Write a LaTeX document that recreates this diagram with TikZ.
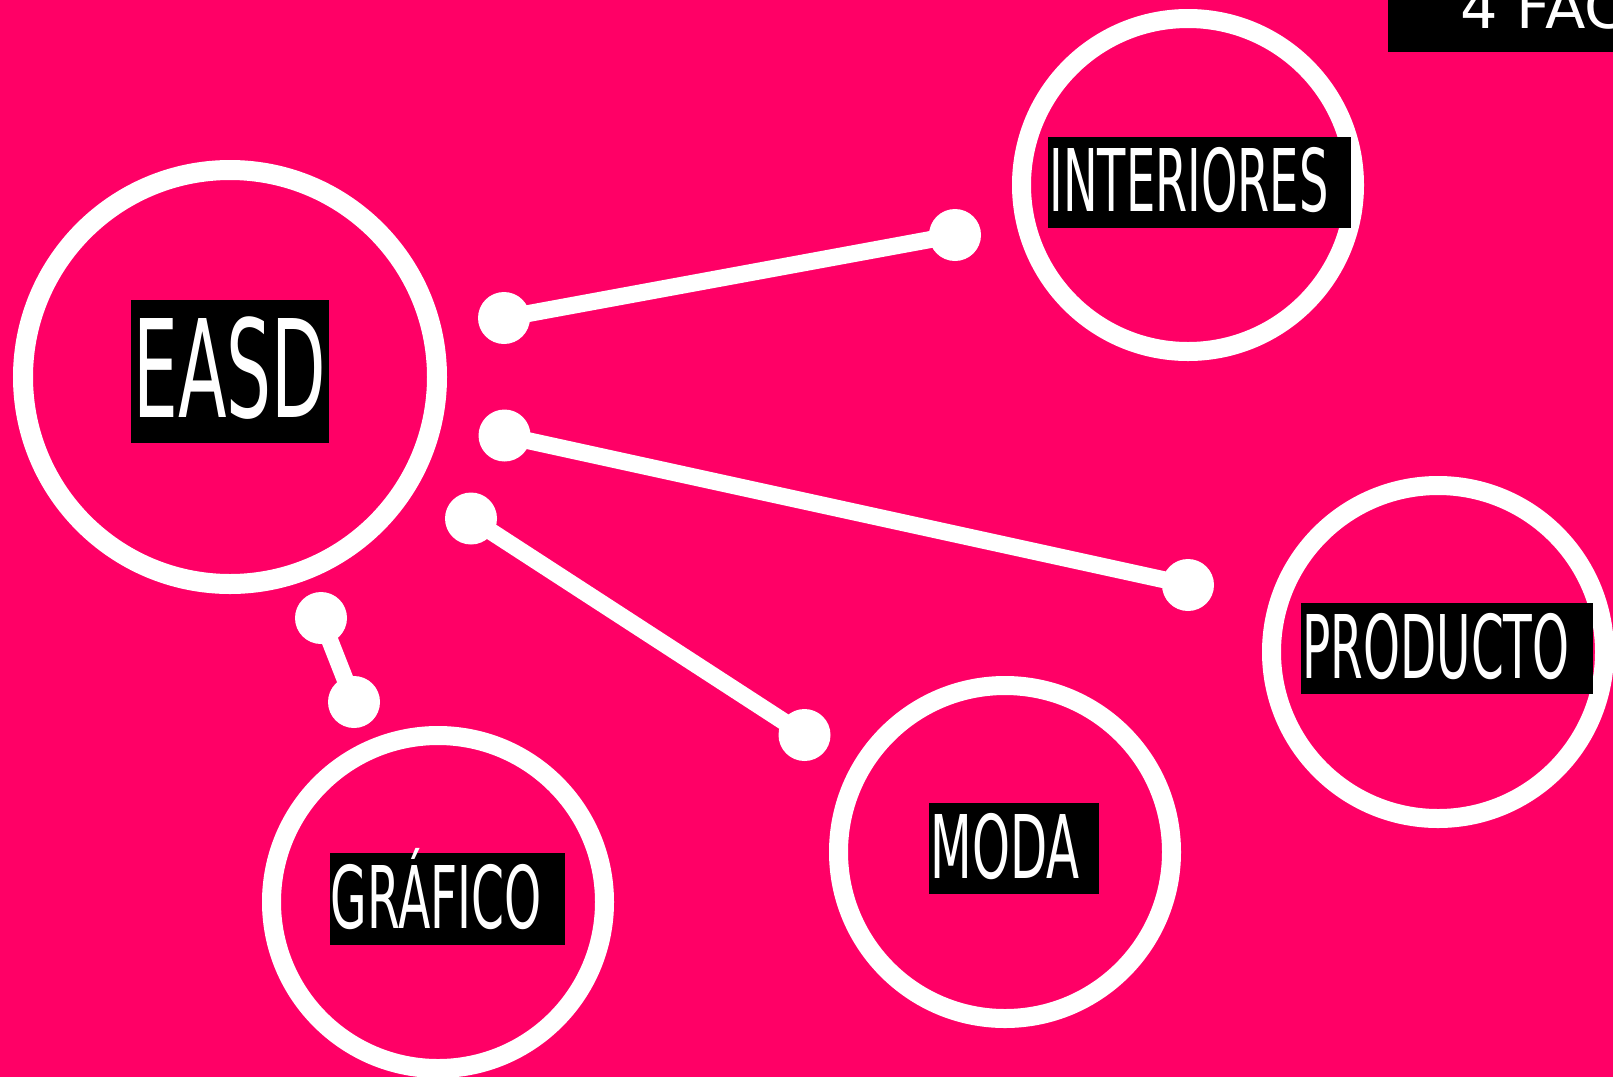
\documentclass[tikz,border=0pt]{standalone}
\usepackage{fontspec}
\newfontfamily\labfont{DejaVu Sans}
\newfontfamily\topfont{DejaVu Sans}
\definecolor{bgpink}{RGB}{255,0,102}
\newcommand\lab[3]{{\labfont\fontsize{86}{90}\selectfont\resizebox{#1}{#2}{\raisebox{0pt}[\fontcharht\font`E][0pt]{#3}}}}
\begin{document}
\begin{tikzpicture}[x=1pt,y=-1pt,
  ring/.style={circle, draw=white, inner sep=0pt},
  bigring/.style={ring, minimum size=414pt, line width=20pt},
  smallring/.style={ring, minimum size=333pt, line width=19pt},
  dot/.style={circle, fill=white, minimum size=52pt, inner sep=0pt},
  conn/.style={draw=white, line width=17pt},
  labbox/.style={fill=black, inner sep=0pt, draw=none},
  labtext/.style={anchor=base, inner sep=0pt, text=white}]
\useasboundingbox (0,0) rectangle (1613,1077);
\clip (0,0) rectangle (1613,1077);
\fill[bgpink] (0,0) rectangle (1613,1077);
% rings
\node[bigring] (easd) at (230,377) {};
\node[smallring] (inter) at (1188,185) {};
\node[smallring] (prod) at (1438,652) {};
\node[smallring] (moda) at (1005,852) {};
\node[smallring] (graf) at (438,902) {};
% connector dots
\node[dot] (a1) at (504,318) {};
\node[dot] (a2) at (955,235) {};
\node[dot] (b1) at (504.5,435.5) {};
\node[dot] (b2) at (1188,585) {};
\node[dot] (c1) at (471,518.5) {};
\node[dot] (c2) at (804.5,735) {};
\node[dot] (d1) at (321,618) {};
\node[dot] (d2) at (354,702) {};
% connectors
\draw[conn] (a1.center) -- (a2.center);
\draw[conn] (b1.center) -- (b2.center);
\draw[conn] (c1.center) -- (c2.center);
\draw[conn] (d1.center) -- (d2.center);
% label boxes
\node[labbox, minimum width=198pt, minimum height=143pt] (bE) at (230,371.5) {};
\node[labbox, minimum width=303pt, minimum height=91pt] (bI) at (1199.5,182.5) {};
\node[labbox, minimum width=292pt, minimum height=91pt] (bP) at (1447,648.5) {};
\node[labbox, minimum width=170pt, minimum height=91pt] (bM) at (1014,848.5) {};
\node[labbox, minimum width=235pt, minimum height=92pt] (bG) at (447.5,899) {};
\node[labbox, minimum width=240pt, minimum height=60pt] (bT) at (1508,22) {};
% label texts
\node[labtext] (tE) at (230,417) {\lab{193pt}{99pt}{EASD}};
\node[labtext] (tI) at (1189,211) {\lab{279pt}{63pt}{INTERIORES}};
\node[labtext] (tP) at (1436,678) {\lab{267pt}{64pt}{PRODUCTO}};
\node[labtext] (tM) at (1005,878) {\lab{149pt}{64pt}{MODA}};
\node[labtext] (tG) at (436,928) {\lab{211pt}{63pt}{GRÁFICO}};
\node[anchor=base west, inner sep=0pt, text=white, font=\topfont\fontsize{59}{60}\selectfont] (tT) at (1460,28) {4 FAC};
\end{tikzpicture}
\end{document}
